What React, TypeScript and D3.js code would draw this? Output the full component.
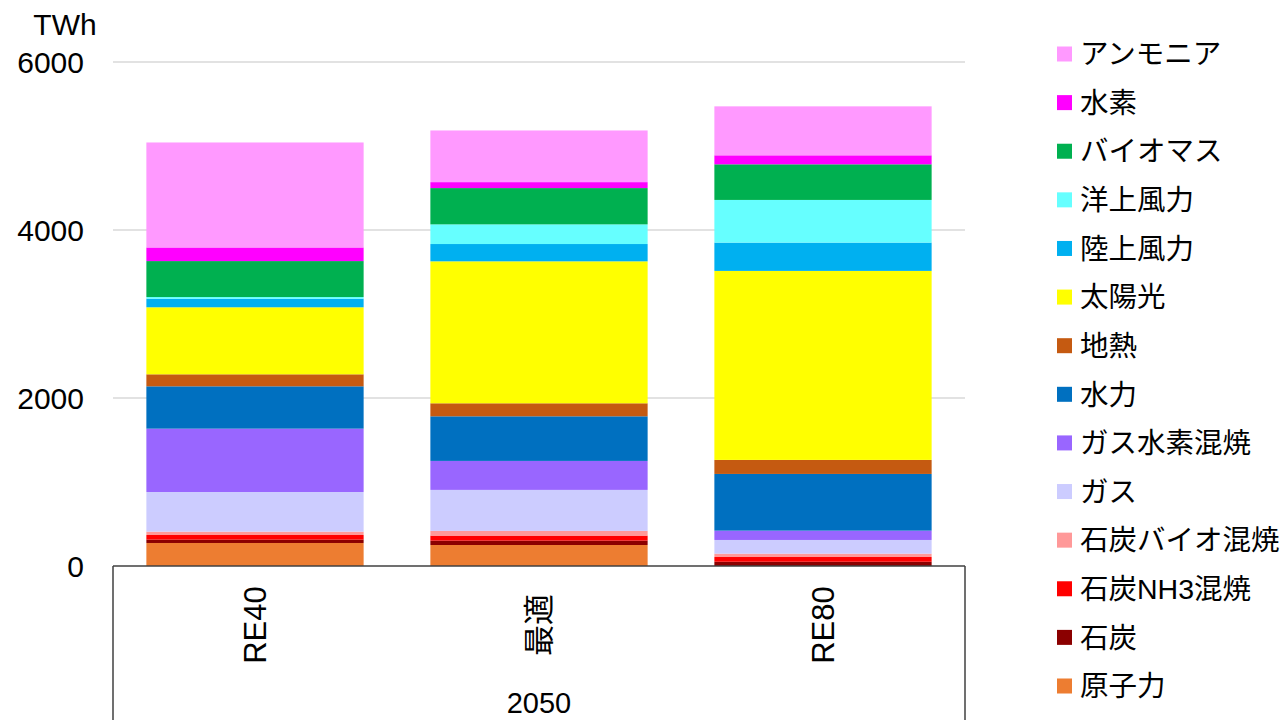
import React from 'react';
import * as d3 from 'd3';

// scenarios (2050)
const categories = ['RE40', '最適', 'RE80'];
const groupLabel = '2050';

// stacked bottom -> top
const sources = ['原子力', '石炭', '石炭NH3混焼', '石炭バイオ混焼', 'ガス', 'ガス水素混焼', '水力', '地熱', '太陽光', '陸上風力', '洋上風力', 'バイオマス', '水素', 'アンモニア'];
const colors = ['#ED7D31', '#8B0000', '#FF0000', '#FF9999', '#CCCCFF', '#9966FF', '#0070C0', '#C55A11', '#FFFF00', '#00B0F0', '#66FFFF', '#00B050', '#FF00FF', '#FF99FF'];

// TWh per source, one array per scenario
const re40 = [274, 40, 55, 40, 472, 754, 504, 143, 798, 102, 20, 428, 162, 1250];
const saiteki = [250, 52, 60, 56, 488, 345, 531, 155, 1690, 206, 234, 432, 71, 615];
const re80 = [0, 51, 56, 40, 163, 111, 675, 167, 2250, 337, 508, 424, 107, 583];

const yTicks = [0, 2000, 4000, 6000];

const W = 1283, H = 720;
const m = { left: 113, right: 965, top: 62, bottom: 566 };
const font = '"Liberation Sans", Arial, "Noto Sans CJK JP", sans-serif';

export default function App() {
  const series = [re40, saiteki, re80];
  const rows = categories.map((c, i) => {
    const r: Record<string, any> = { cat: c };
    sources.forEach((s, j) => { r[s] = series[i][j]; });
    return r;
  });
  const stacked = d3.stack<any>().keys(sources)(rows);

  const x = d3.scaleBand().domain(categories).range([m.left, m.right]).paddingInner(0.235).paddingOuter(0.1175);
  const y = d3.scaleLinear().domain([0, 6000]).range([m.bottom, m.top]);

  const legendY = d3.scalePoint().domain([...sources].reverse()).range([54, 686]);

  return (
    <svg width={W} height={H} style={{ position: 'absolute', left: 0, top: 0, fontFamily: font }}>
      <rect width={W} height={H} fill="#fff" />
      {yTicks.filter(t => t > 0).map(t => (
        <line key={t} x1={m.left} x2={m.right} y1={y(t)} y2={y(t)} stroke="#d9d9d9" strokeWidth={1.5} />
      ))}
      {yTicks.map(t => (
        <text key={t} x={84} y={y(t)} dy="0.36em" textAnchor="end" fontSize={30} fill="#000">{t}</text>
      ))}
      <text x={65} y={35} textAnchor="middle" fontSize={30} fill="#000">TWh</text>

      {stacked.map((layer, j) => (
        <g key={layer.key} fill={colors[j]}>
          {layer.map((d, i) => (
            <rect key={i} x={x(categories[i])} width={x.bandwidth()} y={y(d[1])} height={Math.max(0, y(d[0]) - y(d[1]))} />
          ))}
        </g>
      ))}

      {/* category axis box */}
      <line x1={m.left} x2={m.right} y1={m.bottom} y2={m.bottom} stroke="#404040" strokeWidth={1.5} />
      <line x1={m.left} x2={m.left} y1={m.bottom} y2={H} stroke="#404040" strokeWidth={1.5} />
      <line x1={m.right} x2={m.right} y1={m.bottom} y2={H} stroke="#404040" strokeWidth={1.5} />
      {categories.map(c => {
        const cx = (x(c) as number) + x.bandwidth() / 2;
        return (
          <text key={c} transform={`translate(${cx},625) rotate(-90)`} dy="0.36em" textAnchor="middle" fontSize={31} fill="#000">{c}</text>
        );
      })}
      <text x={(m.left + m.right) / 2} y={713} textAnchor="middle" fontSize={29} fill="#000">{groupLabel}</text>

      {/* legend */}
      {sources.map((s, j) => (
        <g key={s} transform={`translate(1057,${legendY(s)})`}>
          <rect x={0} y={-7.5} width={15} height={15} fill={colors[j]} />
          <text x={23} y={0} dy="0.36em" fontSize={28.5} fill="#000">{s}</text>
        </g>
      ))}
    </svg>
  );
}
